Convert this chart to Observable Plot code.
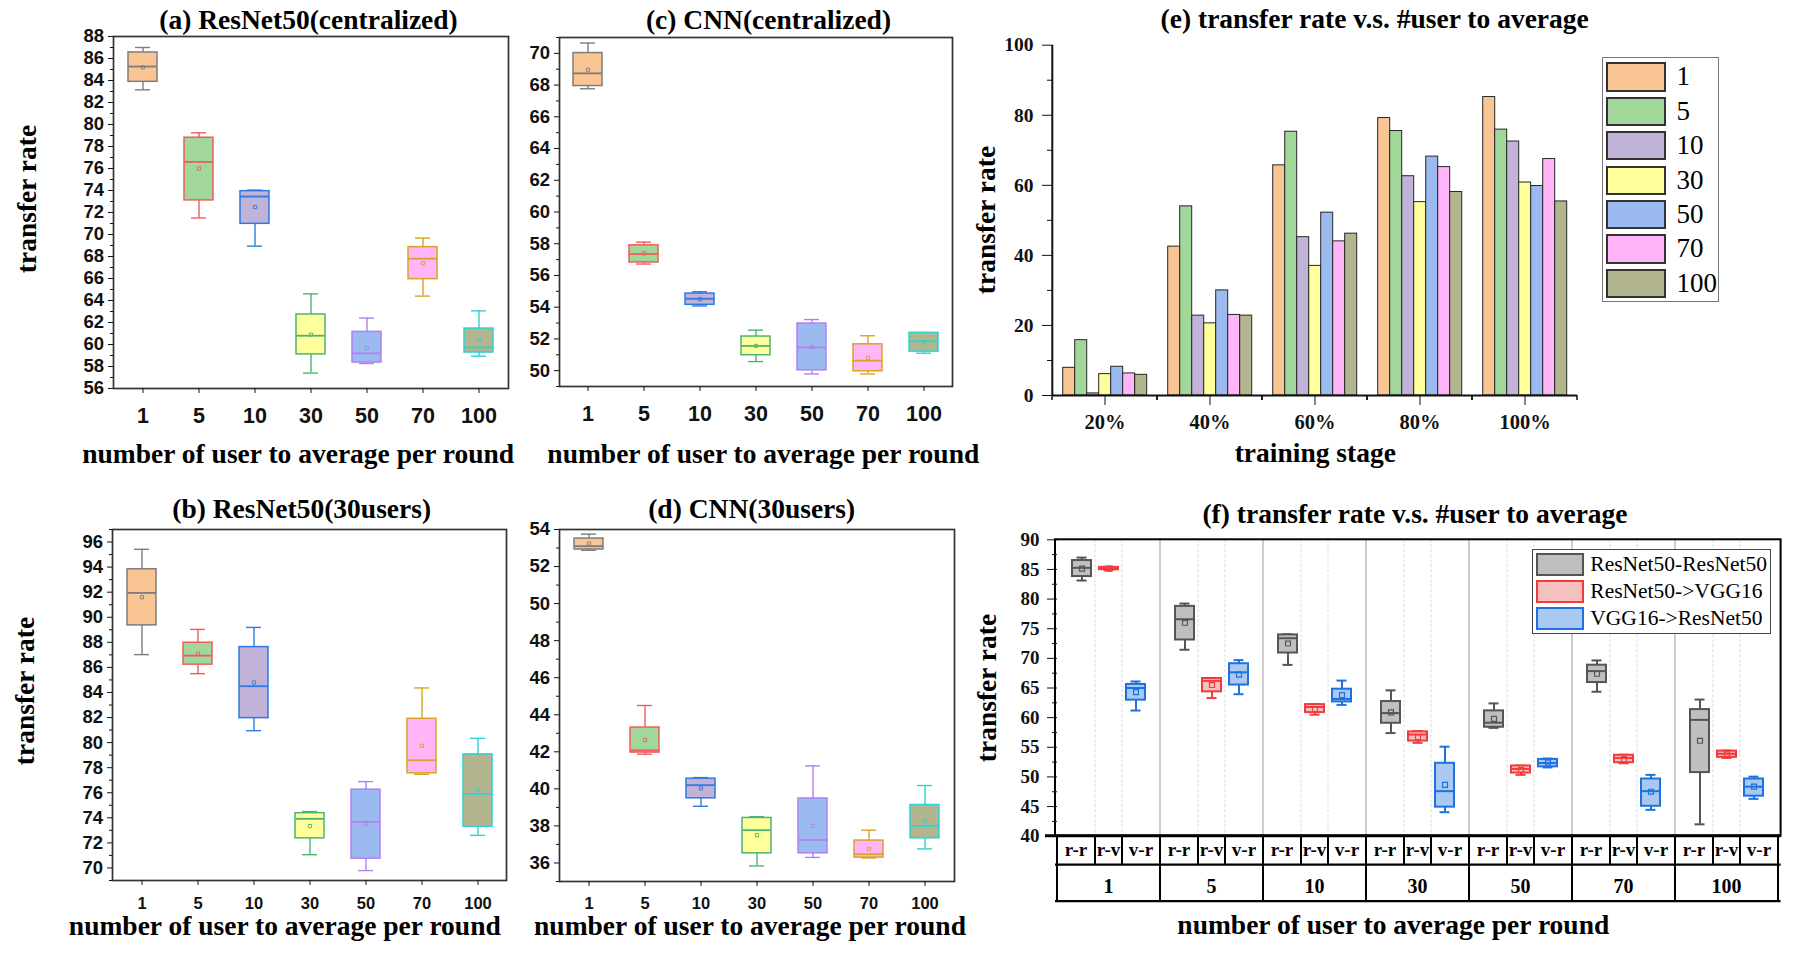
<!DOCTYPE html>
<html><head><meta charset="utf-8">
<script src="https://cdn.jsdelivr.net/npm/d3@7"></script>
<script src="https://cdn.jsdelivr.net/npm/@observablehq/plot@0.6"></script>
<style>
body{margin:0;background:#fff;}
#wrap{position:relative;width:1799px;height:956px;overflow:hidden;background:#fff;}
.panel{position:absolute;}
.t{position:absolute;white-space:nowrap;line-height:1;color:#000;}
.sw{position:absolute;box-sizing:border-box;}
</style></head><body><div id="wrap"></div>
<script>
const SERIF = '"Liberation Serif","Times New Roman",serif';
const SANS = '"Liberation Sans",Arial,sans-serif';

// ---------- categories ----------
const users = ["1","5","10","30","50","70","100"];
const userFill = ["#f9c593","#a2d79c","#c1b2d7","#ffff9b","#9bbaf0","#ffb5f7","#b2b58d"];
const userStroke = ["#7d7d7d","#f05c5c","#2f7ae0","#4db472","#b37ff2","#daa226","#2ed2d2"];
const stages = ["20%","40%","60%","80%","100%"];
const pairs = ["r-r","r-v","v-r"];
const pairNames = ["ResNet50-ResNet50","ResNet50->VGG16","VGG16->ResNet50"];
const pairFill = ["#bfbfbf","#f8bfbf","#a9c9f0"];
const pairStroke = ["#555555","#f03c3c","#1e72e0"];

// ---------- (a) ResNet50 (centralized) ----------
const aLow  = [83.15, 71.5, 68.94, 57.4, 58.27, 64.4, 58.94];
const aQ1   = [83.88, 73.1, 70.97, 59.1, 58.36, 65.94, 59.27];
const aMed  = [85.27, 76.6, 73.45, 60.8, 59.2, 67.8, 59.73];
const aQ3   = [86.55, 78.8, 73.94, 62.73, 61.15, 68.85, 61.45];
const aHigh = [87.0, 79.24, 74.03, 64.6, 62.4, 69.67, 63.06];
const aMean = [85.2, 76.0, 72.5, 60.9, 59.7, 67.4, 60.4];
const aTicks = [56,58,60,62,64,66,68,70,72,74,76,78,80,82,84,86,88];
const aMinor = [57,59,61,63,65,67,69,71,73,75,77,79,81,83,85,87];

// ---------- (b) ResNet50 (30 users) ----------
const bLow  = [87.02, 85.5, 80.95, 71.06, 69.79, 77.47, 72.6];
const bQ1   = [89.35, 86.22, 81.95, 72.36, 70.74, 77.55, 73.29];
const bMed  = [91.94, 86.94, 84.5, 73.92, 73.68, 78.59, 75.91];
const bQ3   = [93.83, 87.97, 87.62, 74.37, 76.25, 81.9, 79.06];
const bHigh = [95.42, 89.03, 89.19, 74.5, 76.89, 84.36, 80.34];
const bMean = [91.6, 87.1, 84.79, 73.34, 73.5, 79.75, 76.2];
const bTicks = [70,72,74,76,78,80,82,84,86,88,90,92,94,96];
const bMinor = [69,71,73,75,77,79,81,83,85,87,89,91,93,95,97];

// ---------- (c) CNN (centralized) ----------
const cLow  = [67.77, 56.72, 54.08, 50.57, 49.79, 49.79, 51.1];
const cQ1   = [67.94, 56.82, 54.15, 50.97, 50.02, 49.96, 51.2];
const cMed  = [68.74, 57.35, 54.53, 51.56, 51.47, 50.63, 51.85];
const cQ3   = [70.02, 57.9, 54.86, 52.15, 52.97, 51.66, 52.38];
const cHigh = [70.65, 58.1, 54.97, 52.55, 53.22, 52.2, 52.4];
const cMean = [68.97, 57.4, 54.5, 51.56, 51.5, 50.8, 51.8];
const cTicks = [50,52,54,56,58,60,62,64,66,68,70];
const cMinor = [49,51,53,55,57,59,61,63,65,67,69,71];

// ---------- (d) CNN (30 users) ----------
const dLow  = [52.88, 41.87, 39.06, 35.84, 36.3, 36.27, 36.76];
const dQ1   = [52.92, 41.96, 39.49, 36.52, 36.52, 36.29, 37.33];
const dMed  = [53.1, 42.08, 40.2, 37.77, 37.24, 36.47, 38.0];
const dQ3   = [53.51, 43.31, 40.55, 38.43, 39.48, 37.21, 39.13];
const dHigh = [53.75, 44.5, 40.61, 38.5, 41.24, 37.77, 40.18];
const dMean = [53.24, 42.64, 40.03, 37.5, 38.0, 36.76, 38.25];
const dTicks = [36,38,40,42,44,46,48,50,52,54];
const dMinor = [35,37,39,41,43,45,47,49,51,53];

// ---------- (e) bars: transfer rate per training stage ----------
const e1   = [7.9, 42.5, 65.7, 79.2, 85.2];
const e5   = [15.8, 54.0, 75.3, 75.5, 75.9];
const e10  = [0.6, 22.8, 45.2, 62.6, 72.5];
const e30  = [6.1, 20.6, 37.0, 55.2, 60.8];
const e50  = [8.2, 30.0, 52.2, 68.2, 59.8];
const e70  = [6.3, 23.0, 44.0, 65.2, 67.5];
const e100 = [5.9, 22.8, 46.2, 58.1, 55.4];
const eTicks = [0,20,40,60,80,100];
const eMinor = [10,30,50,70,90];

// ---------- (f) ----------
const rrLow  = [83.13, 71.45, 68.9, 57.4, 58.27, 64.37, 42.0];
const rrQ1   = [83.8, 73.1, 70.9, 59.05, 58.38, 65.92, 50.73];
const rrMed  = [85.27, 76.6, 73.4, 60.77, 59.15, 67.85, 59.62];
const rrQ3   = [86.5, 78.77, 73.96, 62.72, 61.14, 68.85, 61.36];
const rrHigh = [87.0, 79.25, 74.05, 64.6, 62.4, 69.65, 63.05];
const rrMean = [85.15, 76.0, 72.5, 60.9, 59.8, 67.4, 56.1];
const rvLow  = [84.85, 63.3, 60.5, 55.75, 50.35, 52.3, 53.2];
const rvQ1   = [84.95, 64.35, 60.85, 56.05, 50.65, 52.4, 53.3];
const rvMed  = [85.15, 66.2, 61.8, 57.15, 51.35, 53.2, 53.9];
const rvQ3   = [85.35, 66.6, 62.2, 57.6, 51.85, 53.65, 54.35];
const rvHigh = [85.45, 66.7, 62.3, 57.75, 51.9, 53.75, 54.45];
const rvMean = [85.15, 65.5, 61.45, 56.7, 51.2, 53.0, 53.8];
const vrLow  = [61.2, 63.95, 62.15, 44.05, 51.6, 44.45, 46.3];
const vrQ1   = [62.95, 65.5, 62.65, 44.9, 51.7, 45.05, 46.75];
const vrMed  = [65.0, 67.65, 63.15, 47.6, 52.35, 47.6, 48.35];
const vrQ3   = [65.6, 69.1, 64.8, 52.3, 52.95, 49.65, 49.65];
const vrHigh = [66.1, 69.7, 66.25, 55.1, 53.1, 50.35, 50.05];
const vrMean = [64.3, 67.25, 63.8, 48.65, 52.4, 47.5, 48.35];
const fTicks = [40,45,50,55,60,65,70,75,80,85,90];
const fMinor = [42.5,47.5,52.5,57.5,62.5,67.5,72.5,77.5,82.5,87.5];

// ---------- helpers ----------
const wrap = document.getElementById("wrap");
function place(node, left, top) {
  const d = document.createElement("div");
  d.className = "panel"; d.style.left = left + "px"; d.style.top = top + "px";
  d.appendChild(node); wrap.appendChild(d);
}
function txt(text, x, y, size, o = {}) {
  const d = document.createElement("div");
  d.className = "t"; d.textContent = text;
  d.style.fontFamily = o.family || SERIF;
  d.style.fontWeight = o.weight || "bold";
  d.style.fontSize = size + "px";
  if (o.rotate) {
    d.style.left = (x - 0.3375 * size) + "px";
    d.style.top = y + "px";
    d.style.transform = "translate(-50%,-50%) rotate(-90deg)";
  } else {
    d.style.top = (y - 0.8375 * size) + "px";
    d.style.left = x + "px";
    if (o.anchor !== "start") d.style.transform = "translateX(-50%)";
  }
  wrap.appendChild(d);
}
function statRows(keys, lo, q1, med, q3, hi, mean) {
  return keys.map((k, i) => ({k, lo: lo[i], q1: q1[i], med: med[i], q3: q3[i], hi: hi[i], mean: mean[i]}));
}
function boxMarks(rows, opt, fillOf, strokeOf, w) {
  const c = {x: "k", ...opt};
  return [
    Plot.ruleX(rows, {...c, y1: "lo", y2: "q1", stroke: strokeOf, strokeWidth: w.line}),
    Plot.ruleX(rows, {...c, y1: "q3", y2: "hi", stroke: strokeOf, strokeWidth: w.line}),
    Plot.tickY(rows, {...c, y: "lo", stroke: strokeOf, strokeWidth: w.line, insetLeft: w.cap, insetRight: w.cap}),
    Plot.tickY(rows, {...c, y: "hi", stroke: strokeOf, strokeWidth: w.line, insetLeft: w.cap, insetRight: w.cap}),
    Plot.barY(rows, {...c, y1: "q1", y2: "q3", fill: fillOf, stroke: strokeOf, strokeWidth: w.box, inset: 0}),
    Plot.tickY(rows, {...c, y: "med", stroke: strokeOf, strokeWidth: w.med}),
    Plot.dot(rows, {...c, y: "mean", symbol: "square", r: w.r, stroke: strokeOf, fill: "none", strokeWidth: w.dot})
  ];
}
const uFill = d => userFill[users.indexOf(d.k)];
const uStroke = d => userStroke[users.indexOf(d.k)];

function boxPanel(cfg) {
  const rows = statRows(users, ...cfg.stats);
  return Plot.plot({
    width: cfg.width, height: cfg.height,
    marginLeft: cfg.m[0], marginRight: cfg.m[1], marginTop: cfg.m[2], marginBottom: cfg.m[3],
    style: {background: "transparent", fontFamily: SANS, fontWeight: "bold", color: "#111", overflow: "visible"},
    x: {domain: users, paddingInner: 0.49, paddingOuter: 0.245, axis: null},
    y: {domain: cfg.domain, axis: null},
    marks: [
      ...boxMarks(rows, {}, uFill, uStroke, {line: 1.4, cap: 7, box: 1.5, med: 1.8, r: 1.8, dot: 0.9}),
      Plot.frame({stroke: "#333", strokeWidth: 1.7}),
      Plot.axisY({ticks: cfg.ticks, tickSize: 5, tickPadding: 4.5, fontSize: 18.5, label: null}),
      Plot.axisY({ticks: cfg.minor, tickSize: 3, tickFormat: () => "", label: null}),
      Plot.axisX({tickSize: 5, tickPadding: cfg.xPad, fontSize: cfg.xFont, label: null})
    ]
  });
}

// ---------- panels (a)-(d) ----------
place(boxPanel({width: 520, height: 440, m: [113, 12, 36, 52], domain: [56, 88], ticks: aTicks, minor: aMinor,
  stats: [aLow, aQ1, aMed, aQ3, aHigh, aMean], xFont: 21.5, xPad: 14}), 0, 0);
place(boxPanel({width: 440, height: 440, m: [39, 8, 37, 54], domain: [49, 71], ticks: cTicks, minor: cMinor,
  stats: [cLow, cQ1, cMed, cQ3, cHigh, cMean], xFont: 21.5, xPad: 14}), 520, 0);
place(boxPanel({width: 520, height: 440, m: [112, 14, 49, 40], domain: [69, 97], ticks: bTicks, minor: bMinor,
  stats: [bLow, bQ1, bMed, bQ3, bHigh, bMean], xFont: 16.5, xPad: 11.5}), 0, 480);
place(boxPanel({width: 440, height: 440, m: [39, 6, 49, 39], domain: [35, 54], ticks: dTicks, minor: dMinor,
  stats: [dLow, dQ1, dMed, dQ3, dHigh, dMean], xFont: 16.5, xPad: 11}), 520, 480);

// ---------- panel (e) ----------
const eSeries = [e1, e5, e10, e30, e50, e70, e100];
const eRows = stages.flatMap((s, j) => users.map((u, i) => ({stage: s, k: u, v: eSeries[i][j]})));
const eChart = Plot.plot({
  width: 620, height: 450, marginLeft: 72.3, marginRight: 22.4, marginTop: 44.7, marginBottom: 55,
  style: {background: "transparent", fontFamily: SERIF, fontWeight: "bold", color: "#111", overflow: "visible"},
  fx: {domain: stages, padding: 0, axis: null},
  x: {domain: users, paddingInner: 0, paddingOuter: 0.82, axis: null},
  y: {domain: [0, 100], axis: null},
  marks: [
    Plot.barY(eRows, {fx: "stage", x: "k", y: "v", fill: uFill, stroke: "#262626", strokeWidth: 1, inset: 0}),
    Plot.ruleY([0], {stroke: "#111", strokeWidth: 2}),
    Plot.axisY({ticks: eTicks, tickSize: 10, tickPadding: 9, fontSize: 19.5, label: null}),
    Plot.axisY({ticks: eMinor, tickSize: 5, tickFormat: () => "", label: null}),
    Plot.axisFx({anchor: "bottom", tickSize: 10, tickPadding: 9, fontSize: 20.5, label: null})
  ]
});
{
  const fx = eChart.scale("fx"), y = eChart.scale("y");
  const g = d3.select(eChart).append("g").attr("stroke", "#111");
  const r0 = Math.min(...fx.range);
  g.append("line").attr("x1", r0).attr("x2", r0).attr("y1", y.apply(0) + 1).attr("y2", y.apply(100)).attr("stroke-width", 2);
  for (const s of stages) {
    const a = fx.apply(s);
    for (const xx of [a, a + fx.bandwidth])
      g.append("line").attr("x1", xx).attr("x2", xx).attr("y1", y.apply(0)).attr("y2", y.apply(0) + 5).attr("stroke-width", 1.5);
  }
}
place(eChart, 980, 0);

// legend (e)
{
  const box = document.createElement("div");
  box.className = "sw";
  Object.assign(box.style, {left: "1601.7px", top: "57.3px", width: "117.7px", height: "245px", border: "1px solid #777"});
  wrap.appendChild(box);
  users.forEach((u, i) => {
    const top = 62.3 + i * 34.4;
    const s = document.createElement("div");
    s.className = "sw";
    Object.assign(s.style, {left: "1605.5px", top: top + "px", width: "60.4px", height: "29.3px",
      background: userFill[i], border: "2px solid #333"});
    wrap.appendChild(s);
    txt(u, 1676.6, top + 23.7, 27, {weight: "normal", anchor: "start"});
  });
}

// ---------- panel (f) ----------
const fRows = users.flatMap((g, i) => [
  {g, k: "r-r", lo: rrLow[i], q1: rrQ1[i], med: rrMed[i], q3: rrQ3[i], hi: rrHigh[i], mean: rrMean[i]},
  {g, k: "r-v", lo: rvLow[i], q1: rvQ1[i], med: rvMed[i], q3: rvQ3[i], hi: rvHigh[i], mean: rvMean[i]},
  {g, k: "v-r", lo: vrLow[i], q1: vrQ1[i], med: vrMed[i], q3: vrQ3[i], hi: vrHigh[i], mean: vrMean[i]}
]);
const pFill = d => pairFill[pairs.indexOf(d.k)];
const pStroke = d => pairStroke[pairs.indexOf(d.k)];
const fChart = Plot.plot({
  width: 850, height: 420, marginLeft: 115, marginRight: 9.4, marginTop: 49.3, marginBottom: 74.3,
  style: {background: "transparent", fontFamily: SERIF, fontWeight: "bold", color: "#111", overflow: "visible"},
  fx: {domain: users, padding: 0, axis: null},
  x: {domain: pairs, paddingInner: 0.3, paddingOuter: 0.53, axis: null},
  y: {domain: [40, 90], axis: null},
  marks: [
    ...boxMarks(fRows, {fx: "g"}, pFill, pStroke, {line: 2, cap: 4.5, box: 2, med: 2, r: 2.8, dot: 1.2}),
    Plot.axisY({ticks: fTicks, tickSize: 10, tickPadding: 8, fontSize: 19, label: null}),
    Plot.axisY({ticks: fMinor, tickSize: 5, tickFormat: () => "", label: null})
  ]
});
{
  const fx = fChart.scale("fx"), x = fChart.scale("x"), y = fChart.scale("y");
  const svg = d3.select(fChart);
  const top = y.apply(90), bot = y.apply(40);
  const r0 = Math.min(...fx.range), r1 = Math.max(...fx.range);
  const xr0 = Math.min(...x.range);
  const row1 = bot + 29, row2 = bot + 65.5;
  const under = svg.insert("g", "g");
  const over = svg.append("g");
  const line = (g, x1, y1, x2, y2, stroke, w, dash) => {
    const l = g.append("line").attr("x1", x1).attr("y1", y1).attr("x2", x2).attr("y2", y2)
      .attr("stroke", stroke).attr("stroke-width", w);
    if (dash) l.attr("stroke-dasharray", dash);
  };
  const text = (s, xx, yy, size) => over.append("text").attr("x", xx).attr("y", yy)
    .attr("text-anchor", "middle").attr("font-family", SERIF).attr("font-weight", "bold")
    .attr("font-size", size).attr("fill", "#000").text(s);
  users.forEach((gk, i) => {
    const g0 = fx.apply(gk), g1 = g0 + fx.bandwidth;
    const cs = pairs.map(p => g0 + x.apply(p) - xr0 + x.bandwidth / 2);
    const ds = [(cs[0] + cs[1]) / 2, (cs[1] + cs[2]) / 2];
    ds.forEach(d => line(under, d, top, d, bot, "#d9d9d9", 1, "3,2"));
    if (i > 0) line(under, g0, top, g0, bot, "#ababab", 1.2);
    [g0, g1].forEach(xx => line(over, xx, bot, xx, row2, "#000", 2));
    ds.forEach(d => line(over, d, bot, d, row1, "#000", 2));
    const cells = [[g0, ds[0]], [ds[0], ds[1]], [ds[1], g1]];
    cells.forEach(([a, b], k) => text(pairs[k], (a + b) / 2, bot + 20.5, 19));
    text(gk, (g0 + g1) / 2, bot + 57, 20);
  });
  line(over, r0 - 10, bot, r1, bot, "#000", 3);
  line(over, r0, row1, r1, row1, "#000", 2.2);
  line(over, r0, row2, r1, row2, "#000", 2.2);
  over.append("rect").attr("x", r0).attr("y", top).attr("width", r1 - r0).attr("height", bot - top)
    .attr("fill", "none").attr("stroke", "#000").attr("stroke-width", 2);
}
place(fChart, 940, 490);

// legend (f)
{
  const box = document.createElement("div");
  box.className = "sw";
  Object.assign(box.style, {left: "1531.7px", top: "549px", width: "239px", height: "84.7px", border: "1px solid #444", background: "#fff"});
  wrap.appendChild(box);
  pairNames.forEach((n, i) => {
    const top = 552.7 + i * 27.1;
    const s = document.createElement("div");
    s.className = "sw";
    Object.assign(s.style, {left: "1535.7px", top: top + "px", width: "48px", height: "23.3px",
      background: pairFill[i], border: "2.5px solid " + pairStroke[i]});
    wrap.appendChild(s);
    txt(n, 1590.3, top + 19, 21.5, {weight: "normal", anchor: "start"});
  });
}

// ---------- titles and axis titles ----------
txt("(a) ResNet50(centralized)", 308.5, 29, 27.5);
txt("(c) CNN(centralized)", 768.5, 29.5, 27.5);
txt("(e) transfer rate v.s. #user to average", 1374.7, 28.5, 27.5);
txt("(b) ResNet50(30users)", 301.7, 518.5, 27.5);
txt("(d) CNN(30users)", 751.7, 518.5, 27.5);
txt("(f) transfer rate v.s. #user to average", 1415, 523.3, 27.5);
txt("number of user to average per round", 298.2, 463.5, 27.5);
txt("number of user to average per round", 763.3, 463.5, 27.5);
txt("number of user to average per round", 284.8, 935.5, 27.5);
txt("number of user to average per round", 750, 935.5, 27.5);
txt("training stage", 1315.3, 461.7, 27.5);
txt("number of user to average per round", 1393.3, 934.3, 27.5);
txt("transfer rate", 36, 199, 27.5, {rotate: true});
txt("transfer rate", 34.4, 690.8, 27.5, {rotate: true});
txt("transfer rate", 995, 220, 27.5, {rotate: true});
txt("transfer rate", 996.7, 687.5, 27.5, {rotate: true});
</script></body></html>
